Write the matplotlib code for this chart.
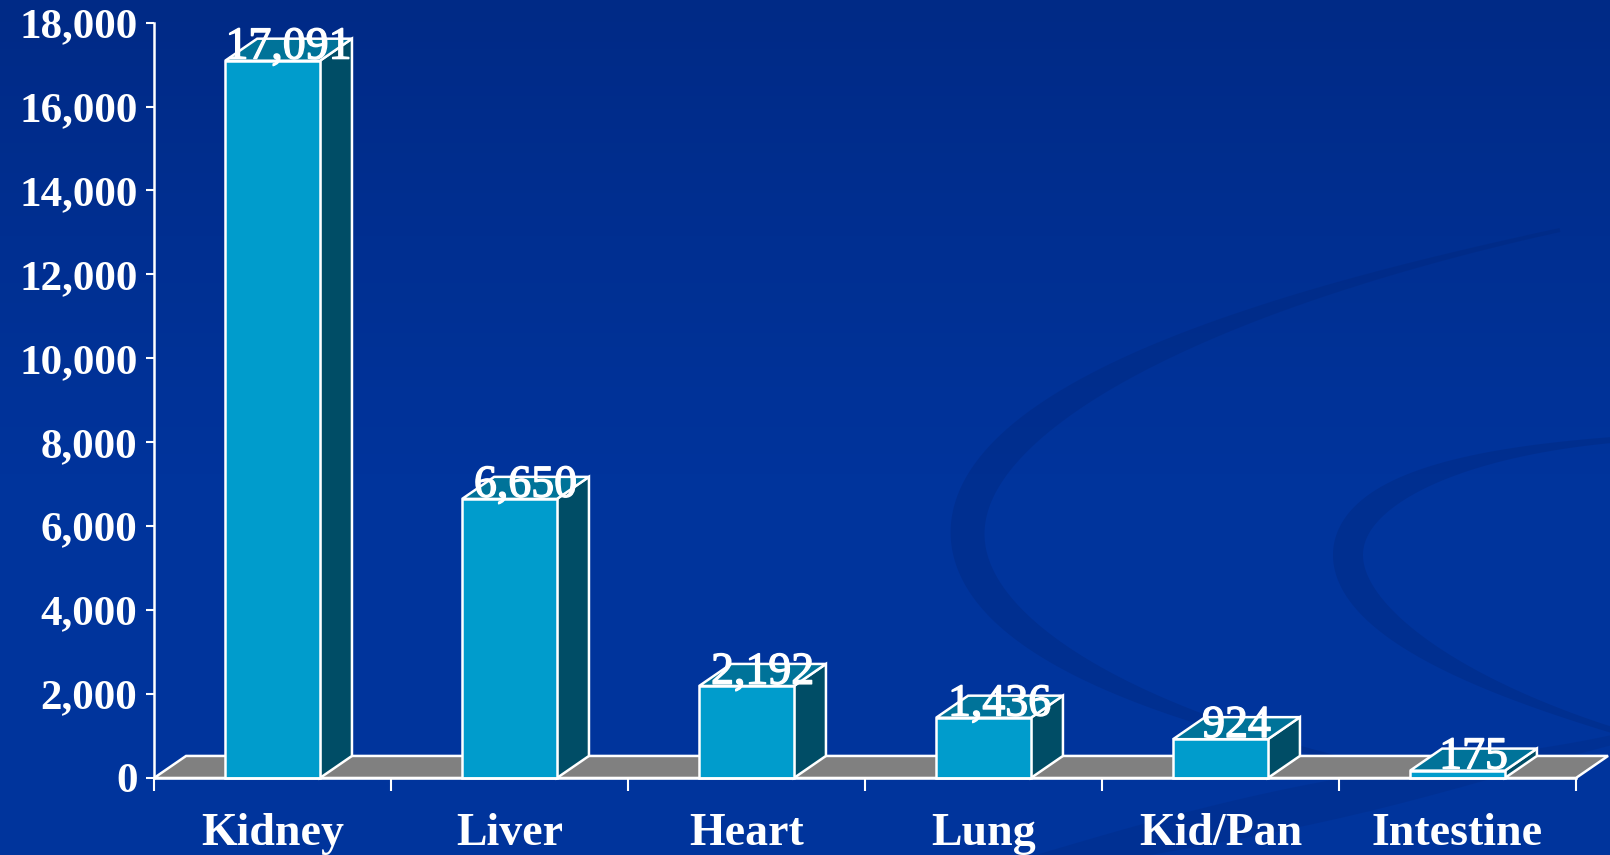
import numpy as np
import matplotlib
matplotlib.use("Agg")
import matplotlib.pyplot as plt
from matplotlib.patches import Polygon
import matplotlib.patheffects as pe

# Data
organs = ["Kidney", "Liver", "Heart", "Lung", "Kid/Pan", "Intestine"]
counts = [17091, 6650, 2192, 1436, 924, 175]
y_ticks = [0, 2000, 4000, 6000, 8000, 10000, 12000, 14000, 16000, 18000]

# Colours
bg_top = np.array([0x00, 0x2a, 0x86]) / 255
bg_bot = np.array([0x00, 0x34, 0x9c]) / 255
front_col = "#009ccc"
top_col = "#007399"
side_col = "#004d66"
floor_col = "#808080"

plt.rcParams["font.family"] = ["Liberation Serif", "DejaVu Serif"]

fig = plt.figure(figsize=(16.1, 8.55), dpi=100)


def swirl(axb, p0, p1, p2, p3, wmax, wmin, color, alpha):
    # filled band along a cubic bezier, thicker in the middle
    t = np.linspace(0, 1, 300)[:, None]
    P = [np.array(p) for p in (p0, p1, p2, p3)]
    c = (1 - t) ** 3 * P[0] + 3 * (1 - t) ** 2 * t * P[1] + 3 * (1 - t) * t ** 2 * P[2] + t ** 3 * P[3]
    d = np.gradient(c, axis=0)
    nrm = np.stack([-d[:, 1], d[:, 0]], axis=1)
    nrm /= np.linalg.norm(nrm, axis=1)[:, None]
    wid = (wmin + (wmax - wmin) * np.sin(np.pi * t[:, 0]) ** 1.5)[:, None] / 2
    pts = np.vstack([c + nrm * wid, (c - nrm * wid)[::-1]])
    axb.add_patch(Polygon(pts, closed=True, facecolor=color, edgecolor="none", alpha=alpha))


# background gradient + swirls (pixel coordinates)
bg = fig.add_axes([0, 0, 1, 1], zorder=-10)
grad = np.linspace(0, 1, 256)[:, None, None]
img = bg_top + (bg_bot - bg_top) * np.clip(grad * 1.8, 0, 1)
bg.imshow(np.repeat(img, 2, axis=1), aspect="auto", extent=[0, 1610, 855, 0])
swirl(bg, (1560, 230), (780, 400), (820, 650), (1390, 770), 34, 4, "#00267a", 0.35)
swirl(bg, (1612, 440), (1260, 470), (1260, 620), (1612, 730), 30, 6, "#00267a", 0.35)
swirl(bg, (900, 900), (1200, 820), (1400, 790), (1612, 740), 40, 10, "#00267a", 0.25)
bg.set_xlim(0, 1610)
bg.set_ylim(855, 0)
bg.axis("off")

ax = fig.add_axes([0.0957, 0.0901, 0.8832, 0.8835])
ax.set_facecolor("none")
n = len(organs)
ax.set_xlim(0, n)
ax.set_ylim(0, 18000)

dx = 0.135   # depth in category units
dy = 525     # depth in data units
w = 0.4

# floor
floor = Polygon([(0, 0), (n, 0), (n + dx, dy), (dx, dy)], closed=True,
                facecolor=floor_col, edgecolor="white", lw=1.8, clip_on=False, zorder=2)
ax.add_patch(floor)

for i, v in enumerate(counts):
    x0 = i + 0.5 - w / 2
    x1 = x0 + w
    side = Polygon([(x1, 0), (x1 + dx, dy), (x1 + dx, v + dy), (x1, v)],
                   facecolor=side_col, edgecolor="white", lw=1.8, clip_on=False, zorder=3)
    top = Polygon([(x0, v), (x1, v), (x1 + dx, v + dy), (x0 + dx, v + dy)],
                  facecolor=top_col, edgecolor="white", lw=1.8, clip_on=False, zorder=3)
    front = Polygon([(x0, 0), (x1, 0), (x1, v), (x0, v)],
                    facecolor=front_col, edgecolor="white", lw=1.8, clip_on=False, zorder=4)
    for p in (side, top, front):
        ax.add_patch(p)
    ax.text(i + 0.5 + dx / 2, v + 50, f"{v:,}", ha="center", va="baseline",
            color="white", fontsize=33, zorder=6,
            path_effects=[pe.withStroke(linewidth=1.0, foreground="white")])

# axes styling
for s in ["top", "right"]:
    ax.spines[s].set_visible(False)
for s in ["left", "bottom"]:
    ax.spines[s].set_color("white")
    ax.spines[s].set_linewidth(1.8)
    ax.spines[s].set_zorder(5)

ax.set_yticks(y_ticks)
ax.set_yticklabels([f"{t:,}" for t in y_ticks])
ax.tick_params(axis="y", colors="white", length=6, width=1.5, pad=6, labelsize=31)
for lab in ax.get_yticklabels():
    lab.set_fontweight("bold")

ax.set_xticks(np.arange(n + 1))
ax.set_xticklabels([])
ax.tick_params(axis="x", which="major", colors="white", length=9, width=1.5)
ax.set_xticks(np.arange(n) + 0.5, minor=True)
ax.set_xticklabels(organs, minor=True)
ax.tick_params(axis="x", which="minor", length=0, pad=25, labelsize=33, labelcolor="white")
for lab in ax.get_xticklabels(minor=True):
    lab.set_fontweight("bold")

fig.savefig("out.png", dpi=100)
